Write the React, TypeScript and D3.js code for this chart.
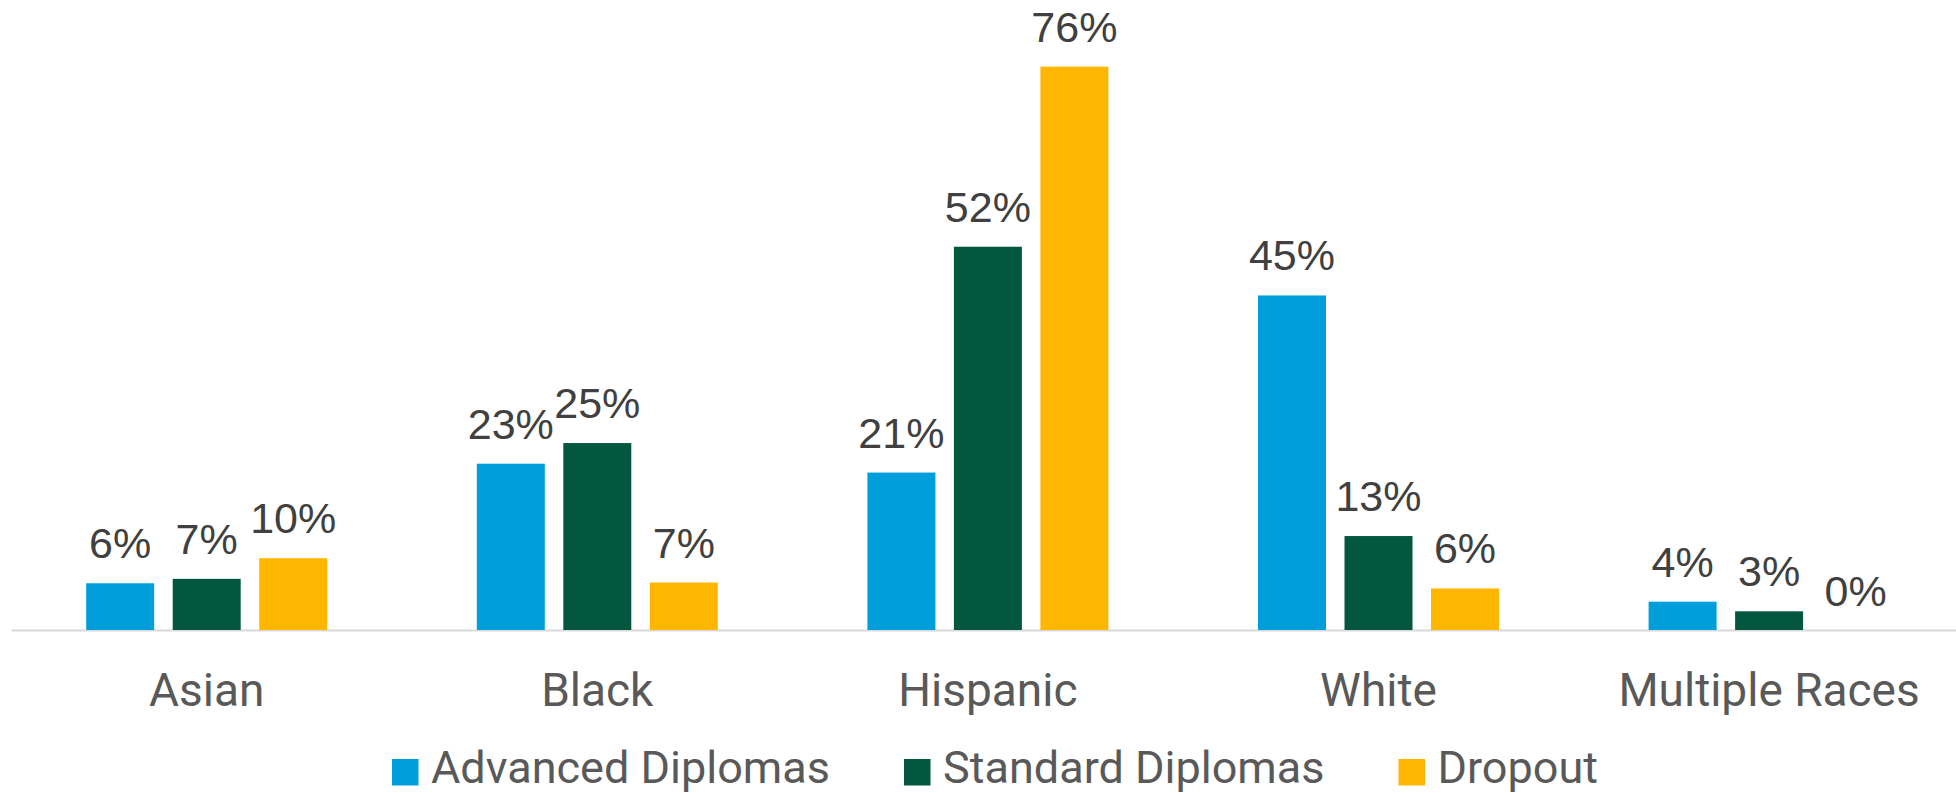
import React, { useEffect, useRef } from "react";
import * as d3 from "d3";

const categories = ["Asian", "Black", "Hispanic", "White", "Multiple Races"];
const seriesNames = ["Advanced Diplomas", "Standard Diplomas", "Dropout"];
const advanced = [6.4, 22.6, 21.4, 45.4, 3.9];
const standard = [7.0, 25.4, 52.0, 12.8, 2.6];
const dropout = [9.8, 6.5, 76.4, 5.7, 0];
const colors = ["#009EDB", "#04573F", "#FFB600"];

const W = 1956;
const H = 794;

export default function App() {
  const ref = useRef<SVGSVGElement | null>(null);

  useEffect(() => {
    const svg = d3.select(ref.current);
    svg.selectAll("*").remove();
    const values = [advanced, standard, dropout];

    const baseY = 630.5;
    const y = d3.scaleLinear().domain([0, 80]).range([baseY, baseY - 80 * 7.38]);
    const x0 = d3.scaleBand<string>().domain(categories).range([11.4, 1964.4]).padding(0);
    const x1 = d3
      .scaleBand<string>()
      .domain(seriesNames)
      .range([-120.5, 120.5])
      .paddingInner(0.214)
      .paddingOuter(0);
    const cx = (c: string) => (x0(c) as number) + x0.bandwidth() / 2;

    // axis line
    svg
      .append("line")
      .attr("x1", 11.4)
      .attr("x2", 1964.4)
      .attr("y1", baseY)
      .attr("y2", baseY)
      .attr("stroke", "#d9d9d9")
      .attr("stroke-width", 2);

    const g = svg.append("g");
    seriesNames.forEach((s, si) => {
      categories.forEach((c, ci) => {
        const v = values[si][ci];
        const bx = cx(c) + (x1(s) as number);
        g.append("rect")
          .attr("x", bx)
          .attr("y", y(v))
          .attr("width", x1.bandwidth())
          .attr("height", Math.max(0, baseY - 0.5 - y(v)))
          .attr("fill", colors[si]);
        g.append("text")
          .attr("x", bx + x1.bandwidth() / 2)
          .attr("y", y(v) - 25)
          .attr("text-anchor", "middle")
          .attr("font-family", "'Liberation Sans', Arial, sans-serif")
          .attr("font-size", 43)
          .attr("fill", "#404040")
          .text(`${Math.round(v)}%`);
      });
    });

    // category labels
    svg
      .append("g")
      .selectAll("text")
      .data(categories)
      .join("text")
      .attr("x", (d) => cx(d))
      .attr("y", 706)
      .attr("text-anchor", "middle")
      .attr("font-family", "Roboto, sans-serif")
      .attr("font-size", 46)
      .attr("fill", "#595959")
      .text((d) => d);

    // legend
    const lg = svg.append("g");
    const sq = 26.5;
    const gapT = 12.5;
    const gapItem = 74;
    const items = seriesNames.map((s, i) => {
      const t = lg
        .append("text")
        .attr("y", 783)
        .attr("font-family", "Roboto, sans-serif")
        .attr("font-size", 45)
        .attr("fill", "#595959")
        .text(s);
      const w = (t.node() as SVGTextElement).getComputedTextLength();
      const r = lg.append("rect").attr("y", 759).attr("width", sq).attr("height", sq).attr("fill", colors[i]);
      return { t, r, w };
    });
    const total = items.reduce((a, it) => a + sq + gapT + it.w, 0) + gapItem * (items.length - 1);
    let xx = 995 - total / 2;
    items.forEach((it) => {
      it.r.attr("x", xx);
      it.t.attr("x", xx + sq + gapT);
      xx += sq + gapT + it.w + gapItem;
    });
  }, []);

  return (
    <svg
      ref={ref}
      width={W}
      height={H}
      style={{ position: "absolute", left: 0, top: 0, background: "#fff" }}
    />
  );
}
